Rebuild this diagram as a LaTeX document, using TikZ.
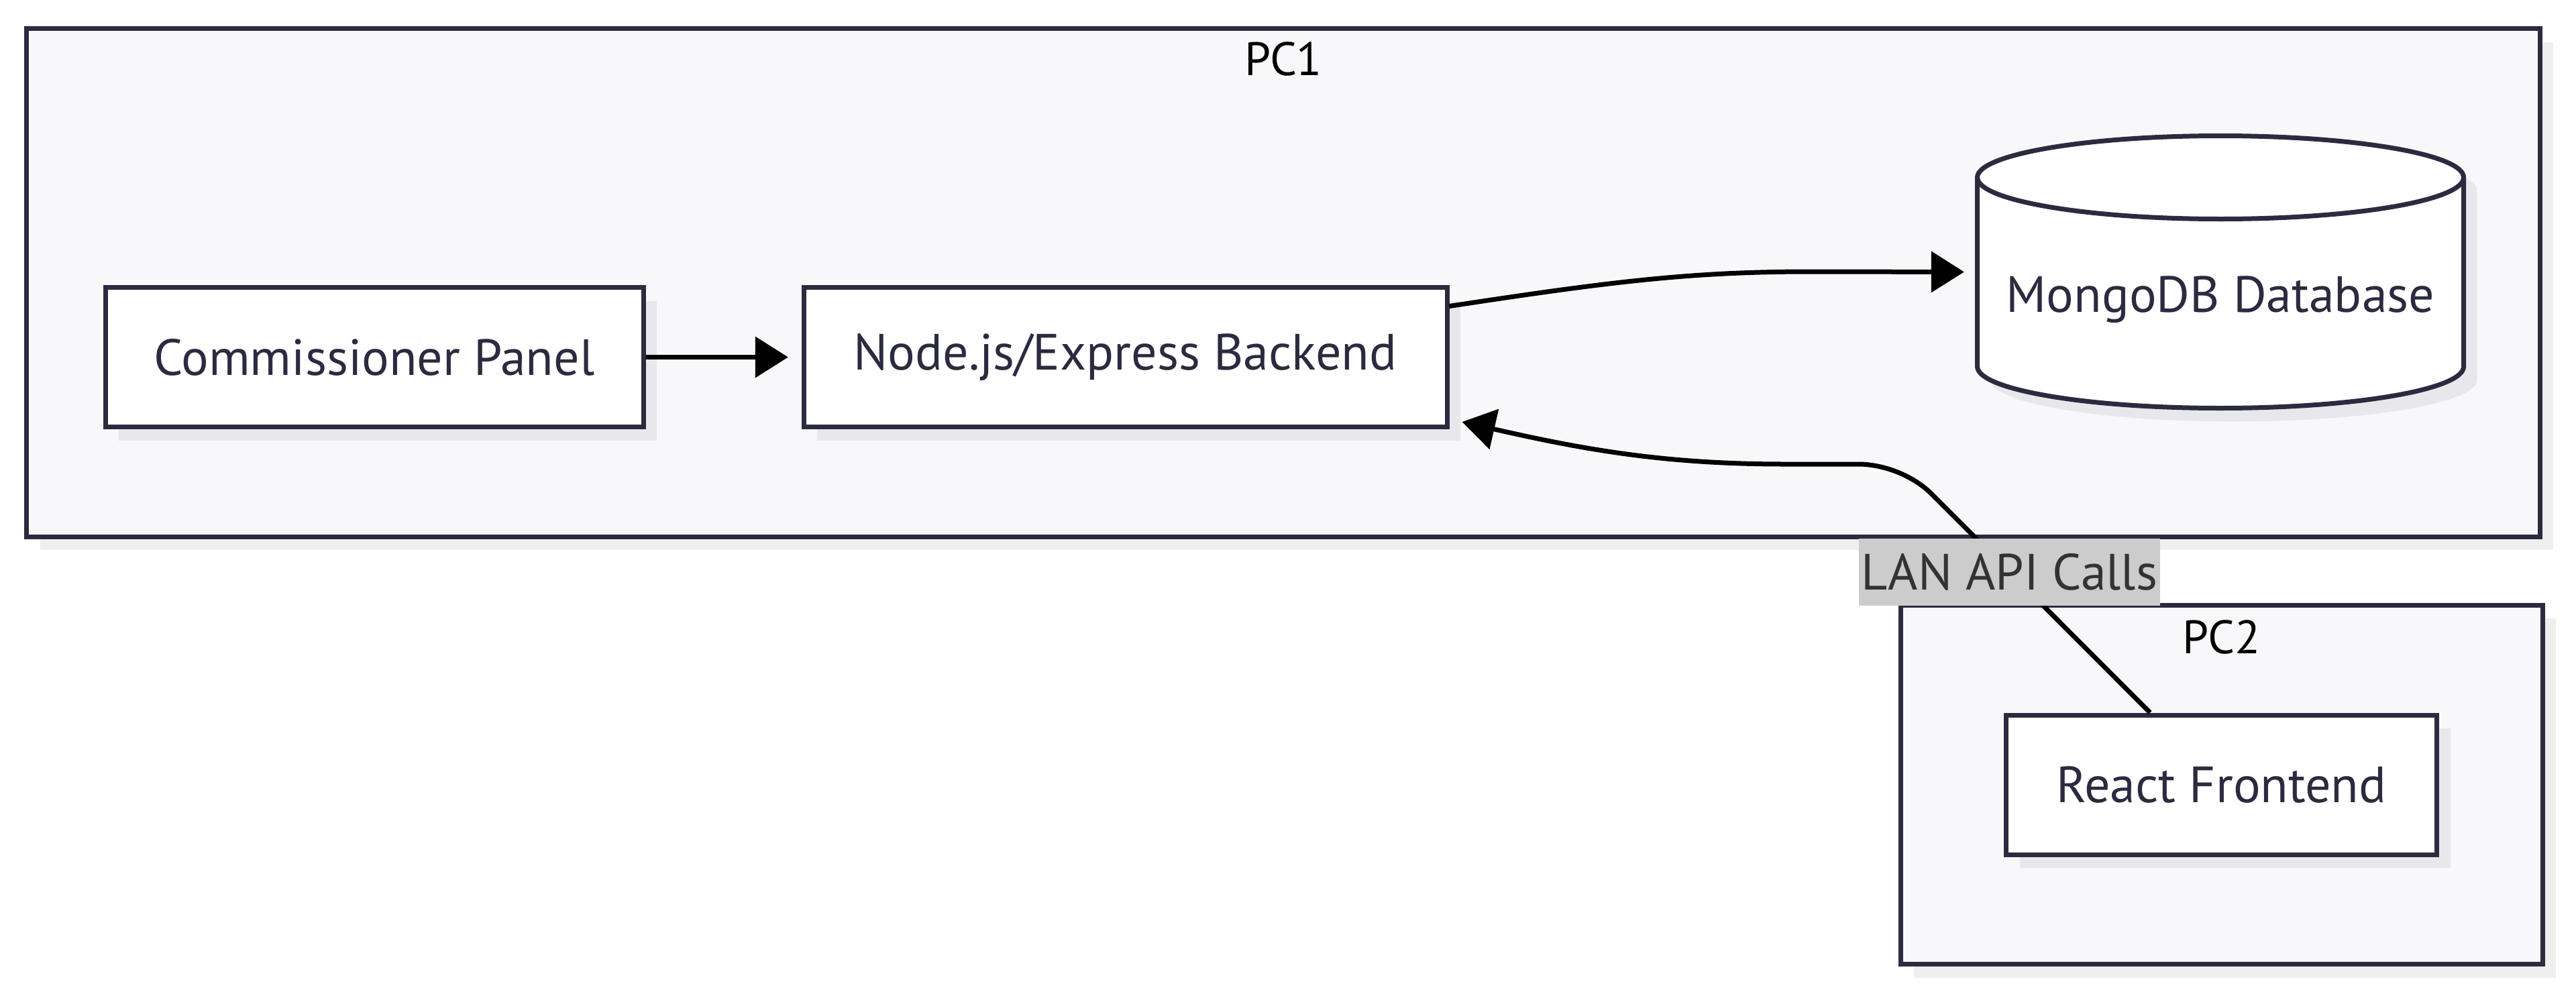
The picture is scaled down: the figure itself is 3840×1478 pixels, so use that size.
\documentclass[tikz,border=0pt]{standalone}
\usepackage{fontspec}
\setmainfont{PT Sans}
\usetikzlibrary{arrows.meta, positioning, shapes.geometric, fit, backgrounds, shadows}

\definecolor{inkline}{HTML}{2B2B40}
\definecolor{clusterbg}{HTML}{F8F8FA}
\definecolor{nodeshade}{HTML}{E8E8EC}
\definecolor{clustershade}{HTML}{EFEFEF}
\definecolor{edgelabelbg}{HTML}{CCCCCC}
\definecolor{edgelabeltext}{HTML}{333333}

\begin{document}
\begin{tikzpicture}[
    x=0.25pt, y=-0.25pt,
    every node/.style={font=\fontsize{19}{23}\selectfont},
    box/.style={rectangle, draw=inkline, line width=1.75pt, fill=white, text=inkline, minimum height=52pt, drop shadow={shadow xshift=5pt, shadow yshift=-5pt, fill=nodeshade, opacity=1}},
    dbbox/.style={rectangle, outer sep=0pt, text=inkline, text height=34.7pt, text depth=4.6pt, minimum width=181.25pt, minimum height=101.5pt},
    dbshape/.style={draw=inkline, line width=1.75pt, fill=white},
    dbend/.style={x radius=90.625pt, y radius=15.5pt},
    machine/.style={rectangle, draw=inkline, line width=1.75pt, fill=clusterbg, drop shadow={shadow xshift=5pt, shadow yshift=-5pt, fill=clustershade, opacity=1}},
    arrow/.style={-{Triangle[length=12.25pt, width=15pt]}, line width=1.75pt, black},
    edgelabel/.style={fill=edgelabelbg, text=edgelabeltext, inner xsep=1pt, inner ysep=0pt, minimum height=25pt},
    title/.style={font=\fontsize{17.5}{21}\selectfont, text=black}
]
\useasboundingbox (0,0) rectangle (3840,1478);

% PC1 components
\node[box, minimum width=200.5pt] (cpanel) at (558,532.5) {Commissioner Panel};
\node[box, minimum width=239.75pt, right=58pt of cpanel] (nodejs) {Node.js/Express Backend};

% database cylinder, drawn round its node
\path[dbshape, drop shadow={shadow xshift=5pt, shadow yshift=-5pt, fill=nodeshade, opacity=1}]
    (2947.5,264.5) -- (2947.5,546.5) arc[start angle=180, end angle=360, dbend]
    -- (3672.5,264.5) arc[start angle=0, end angle=180, dbend] -- cycle;
\node[dbbox] (mongo) at (3310,405.5) {MongoDB Database};
\draw[dbshape, fill=none] ([yshift=-15.5pt]mongo.north west) arc[start angle=180, end angle=360, dbend];

% PC2 component
\node[box, minimum width=160.5pt] (react) at (3311.5,1170) {React Frontend};

% Arrows
\draw[arrow, shorten >=4.9pt] (cpanel) -- (nodejs);
\draw[arrow, shorten >=4.9pt] ([yshift=19pt]nodejs.east) .. controls (2400,420) and (2520,405) .. (2700,405) -- (mongo.west);

% LAN call back to the backend
\draw[arrow] ([xshift=-26.6pt]react.north) -- node[edgelabel, pos=0.645] {LAN API Calls} (2880,737)
    .. controls (2850,707) and (2805,692) .. (2770,692) -- (2661,692)
    .. controls (2480,692) and (2360,670) .. ([xshift=4.75pt, yshift=2.75pt]nodejs.south east);

% Machine frames
\begin{scope}[on background layer]
\node[machine, fit=(cpanel)(nodejs)(mongo), inner xsep=28.4pt, inner ysep=40pt, label={[title, anchor=center, yshift=-12.25pt]north:PC1}] (pc1) {};
\node[machine, fit=(react), inner xsep=38.5pt, inner ysep=40.1pt, label={[title, anchor=center, yshift=-12.75pt]north:PC2}] (pc2) {};
\end{scope}

\end{tikzpicture}
\end{document}
